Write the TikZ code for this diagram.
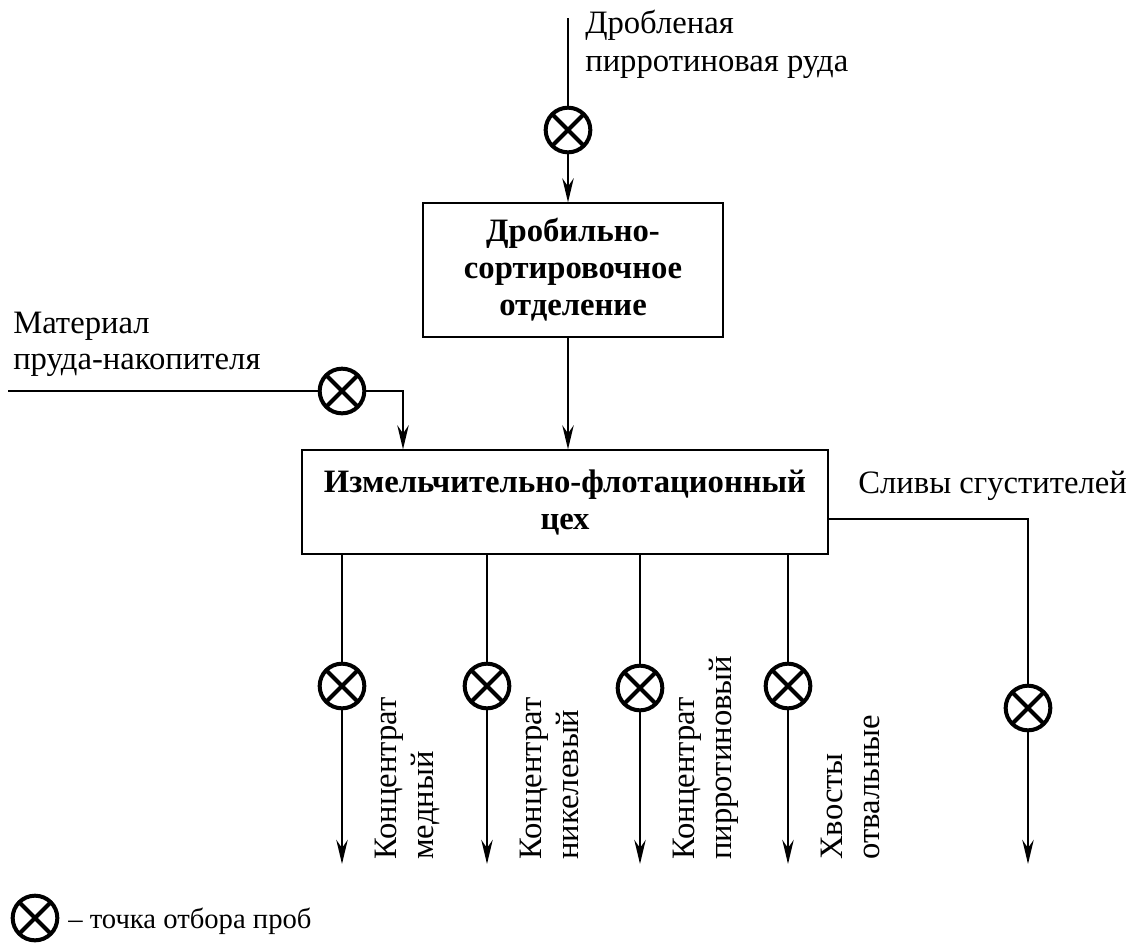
\documentclass[tikz,border=0pt]{standalone}
\usepackage{fontspec}
\setmainfont{Liberation Serif}
\usetikzlibrary{arrows.meta}
\begin{document}
\begin{tikzpicture}[x=0.75pt,y=-0.75pt,
  flow/.style={line width=2.2pt},
  feed/.style={flow,-{Stealth[length=18pt,width=8.5pt,inset=6pt]}},
  unit/.style={draw, line width=0.9pt, align=center, inner sep=0,
    font=\fontsize{24.5}{27.75}\selectfont\bfseries},
  probe/.style={circle, draw, line width=3pt, minimum size=33.5pt,
    inner sep=0, outer sep=0},
  lbl/.style={font=\fontsize{24.5}{27.75}\selectfont, inner sep=0, anchor=base west},
  vlbl/.style={lbl, rotate=90}]
\useasboundingbox (0,0) rectangle (1142,951);

% process units
\node[unit, minimum width=225pt, minimum height=100.5pt] (crush) at (573,270)
  {Дробильно-\\сортировочное\\отделение};
\node[unit, minimum width=394.5pt, minimum height=78pt] (mill) at (565,502)
  {Измельчительно-флотационный\\цех};

% sampling points
\foreach \n/\x/\y in {pa/568/130, pb/342/391, pc/342/686, pd/487/686,
                      pe/640/688, pf/788/686, pg/1028/708, pl/35/918} {
  \node[probe] (\n) at (\x,\y) {};
  \draw[line width=3pt] (\n.45) -- (\n.225) (\n.135) -- (\n.315);
}

% free ends of the streams
\coordinate (orein) at (568,18);
\coordinate (pondin) at (8,391);
\coordinate (pondturn) at (403,391);
\coordinate (overturn) at (1028,519);
\foreach \n/\x in {oc/342, od/487, oe/640, of/788, og/1028}
  \coordinate (\n) at (\x,864);

% crushed ore feed
\draw[flow] (orein) -- (pa);
\draw[feed] (pa) -- (pa |- crush.north);
\draw[feed] (crush.south -| pa) -- (pa |- mill.north);

% pond material feed
\draw[flow] (pondin) -- (pb);
\draw[feed] (pb) -- (pondturn) -- (pondturn |- mill.north);

% products
\foreach \p/\o in {pc/oc, pd/od, pe/oe, pf/of} {
  \draw[flow] (mill.south -| \p) -- (\p);
  \draw[feed] (\p) -- (\o);
}

% thickener overflow
\draw[flow] (mill.east |- overturn) -- (overturn) -- (pg);
\draw[feed] (pg) -- (og);

% labels
\node[lbl] (t1) at (585,33) {Дробленая};
\node[lbl] (t2) at (585,71) {пирротиновая руда};
\node[lbl] (t3) at (13,333) {Материал};
\node[lbl] (t4) at (13,369) {пруда-накопителя};
\node[lbl] (t5) at (858,493) {Сливы сгустителей};

\node[vlbl] (v1) at (396,860) {Концентрат};
\node[vlbl] (v2) at (433,860) {медный};
\node[vlbl] (v3) at (541,860) {Концентрат};
\node[vlbl] (v4) at (578,860) {никелевый};
\node[vlbl] (v5) at (694,860) {Концентрат};
\node[vlbl] (v6) at (731,860) {пирротиновый};
\node[vlbl] (v7) at (842,860) {Хвосты};
\node[vlbl] (v8) at (879,860) {отвальные};

\node[lbl, font=\fontsize{21.5}{26}\selectfont] (leg) at (68,928) {– точка отбора проб};
\end{tikzpicture}
\end{document}
